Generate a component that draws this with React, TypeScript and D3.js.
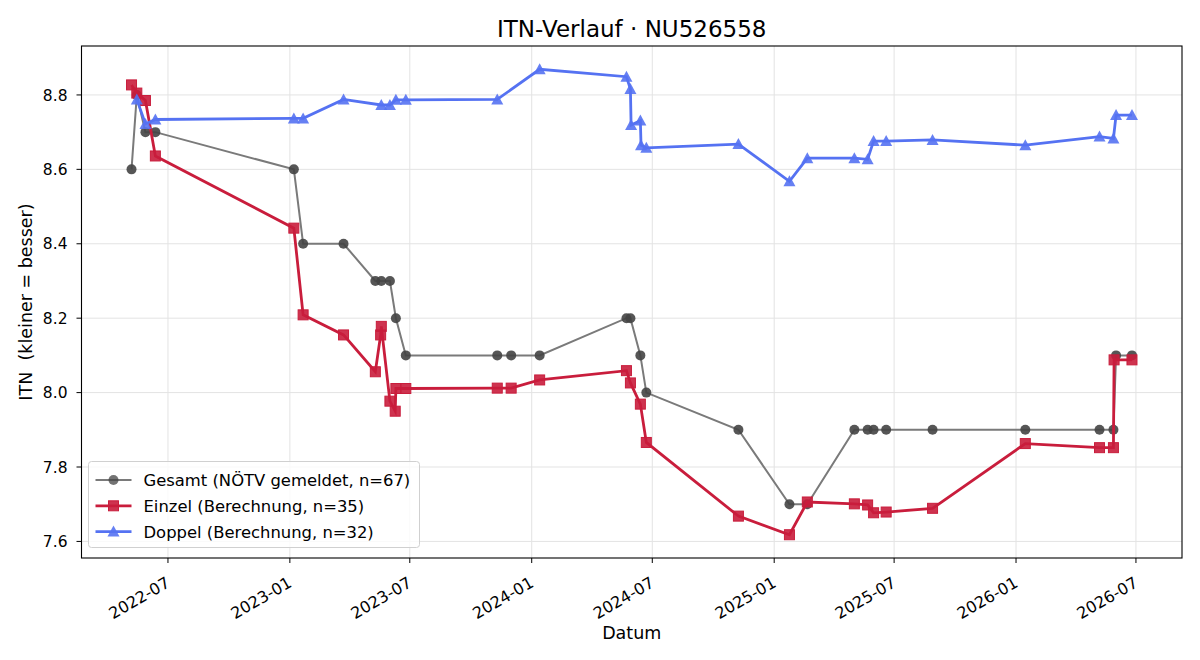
import React, { useEffect, useRef } from 'react';
import * as d3 from 'd3';

// Gesamt (NÖTV gemeldet)
const gesamtDates = [
  '2022-05-07', '2022-05-15', '2022-05-28', '2022-06-12', '2023-01-07', '2023-01-21',
  '2023-03-23', '2023-05-10', '2023-05-19', '2023-06-01', '2023-06-10', '2023-06-25',
  '2023-11-10', '2023-12-01', '2024-01-13', '2024-05-23', '2024-05-29', '2024-06-13',
  '2024-06-22', '2024-11-08', '2025-01-24', '2025-02-20', '2025-05-02', '2025-05-22',
  '2025-05-31', '2025-06-19', '2025-08-28', '2026-01-15', '2026-05-07', '2026-05-28',
  '2026-06-01', '2026-06-25',
];
const gesamtValues = [
  8.6, 8.8, 8.7, 8.7, 8.6, 8.4,
  8.4, 8.3, 8.3, 8.3, 8.2, 8.1,
  8.1, 8.1, 8.1, 8.2, 8.2, 8.1,
  8.0, 7.9, 7.7, 7.7, 7.9, 7.9,
  7.9, 7.9, 7.9, 7.9, 7.9, 7.9,
  8.1, 8.1,
];

// Einzel (Berechnung)
const einzelDates = [
  '2022-05-07', '2022-05-15', '2022-05-28', '2022-06-12', '2023-01-07', '2023-01-21',
  '2023-03-23', '2023-05-10', '2023-05-18', '2023-05-19', '2023-06-01', '2023-06-09',
  '2023-06-10', '2023-06-25', '2023-11-10', '2023-12-01', '2024-01-13', '2024-05-23',
  '2024-05-29', '2024-06-13', '2024-06-22', '2024-11-08', '2025-01-24', '2025-02-20',
  '2025-05-02', '2025-05-22', '2025-05-31', '2025-06-19', '2025-08-28', '2026-01-15',
  '2026-05-07', '2026-05-28', '2026-05-29', '2026-06-25',
];
const einzelValues = [
  8.827, 8.805, 8.785, 8.636, 8.442, 8.209,
  8.155, 8.056, 8.155, 8.178, 7.977, 7.95,
  8.011, 8.011, 8.012, 8.012, 8.034, 8.059,
  8.026, 7.969, 7.866, 7.668, 7.618, 7.706,
  7.701, 7.698, 7.677, 7.679, 7.689, 7.863,
  7.852, 7.852, 8.088, 8.088,
];

// Doppel (Berechnung)
const doppelDates = [
  '2022-05-15', '2022-05-28', '2022-06-12', '2023-01-07', '2023-01-21', '2023-03-23',
  '2023-05-19', '2023-06-01', '2023-06-10', '2023-06-25', '2023-11-10', '2024-01-13',
  '2024-05-23', '2024-05-29', '2024-05-30', '2024-06-13', '2024-06-14', '2024-06-22',
  '2024-11-08', '2025-01-24', '2025-02-20', '2025-05-02', '2025-05-22', '2025-05-31',
  '2025-06-19', '2025-08-28', '2026-01-15', '2026-05-07', '2026-05-28', '2026-06-01',
  '2026-06-25',
];
const doppelValues = [
  8.788, 8.722, 8.734, 8.737, 8.737, 8.788,
  8.773, 8.773, 8.787, 8.787, 8.788, 8.869,
  8.849, 8.816, 8.719, 8.731, 8.665, 8.658,
  8.668, 8.568, 8.63, 8.63, 8.627, 8.676,
  8.676, 8.679, 8.665, 8.688, 8.683, 8.746,
  8.746,
];

const legendLabels = [
  'Gesamt (NÖTV gemeldet, n=67)',
  'Einzel (Berechnung, n=35)',
  'Doppel (Berechnung, n=32)',
];

const FONT = '"DejaVu Sans", sans-serif';
const GRAY_LINE = '#7a7a7a';
const GRAY_DOT = '#444444';
const RED = '#c91d3c';
const BLUE = '#5572f2';

interface Pt { date: Date; value: number; }

const App: React.FC = () => {
  const svgRef = useRef<SVGSVGElement>(null);

  useEffect(() => {
    if (!svgRef.current) return;
    document.body.style.margin = '0';

    const width = 1200;
    const height = 660;
    const svg = d3.select(svgRef.current);
    svg.selectAll('*').remove();

    const margin = { top: 46, right: 18, bottom: 102, left: 81.5 };
    const innerWidth = width - margin.left - margin.right;
    const innerHeight = height - margin.top - margin.bottom;

    const parse = d3.timeParse('%Y-%m-%d');
    const toPts = (ds: string[], vs: number[]): Pt[] =>
      ds.map((d, i) => ({ date: parse(d) as Date, value: vs[i] }));

    const gesamt = toPts(gesamtDates, gesamtValues);
    const einzel = toPts(einzelDates, einzelValues);
    const doppel = toPts(doppelDates, doppelValues);
    const all = [...gesamt, ...einzel, ...doppel];

    // matplotlib-style 5% padding
    const [t0, t1] = d3.extent(all, d => +d.date) as [number, number];
    const [v0, v1] = d3.extent(all, d => d.value) as [number, number];
    const tp = (t1 - t0) * 0.05;
    const vp = (v1 - v0) * 0.05;

    const xScale = d3.scaleTime()
      .domain([new Date(t0 - tp), new Date(t1 + tp)])
      .range([0, innerWidth]);
    const yScale = d3.scaleLinear()
      .domain([v0 - vp, v1 + vp])
      .range([innerHeight, 0]);

    const g = svg.append('g')
      .attr('transform', `translate(${margin.left},${margin.top})`);

    const xTicks = xScale.ticks(d3.timeMonth.every(6) as d3.TimeInterval);
    const yTicks = d3.range(7.6, 8.81, 0.2);

    // Grid
    g.append('g').selectAll('line')
      .data(xTicks)
      .enter()
      .append('line')
      .attr('x1', d => xScale(d)).attr('x2', d => xScale(d))
      .attr('y1', 0).attr('y2', innerHeight)
      .attr('stroke', '#e3e3e3').attr('stroke-width', 1);
    g.append('g').selectAll('line')
      .data(yTicks)
      .enter()
      .append('line')
      .attr('x1', 0).attr('x2', innerWidth)
      .attr('y1', d => yScale(d)).attr('y2', d => yScale(d))
      .attr('stroke', '#e3e3e3').attr('stroke-width', 1);

    const line = d3.line<Pt>().x(d => xScale(d.date)).y(d => yScale(d.value));

    // Gesamt
    g.append('path')
      .datum(gesamt)
      .attr('d', line)
      .attr('fill', 'none')
      .attr('stroke', GRAY_LINE)
      .attr('stroke-width', 2);
    g.selectAll('.dot-g')
      .data(gesamt)
      .enter()
      .append('circle')
      .attr('class', 'dot-g')
      .attr('cx', d => xScale(d.date))
      .attr('cy', d => yScale(d.value))
      .attr('r', 5)
      .attr('fill', GRAY_DOT)
      .attr('opacity', 0.9);

    // Einzel
    g.append('path')
      .datum(einzel)
      .attr('d', line)
      .attr('fill', 'none')
      .attr('stroke', RED)
      .attr('stroke-width', 2.8);
    g.selectAll('.sq')
      .data(einzel)
      .enter()
      .append('rect')
      .attr('class', 'sq')
      .attr('x', d => xScale(d.date) - 5)
      .attr('y', d => yScale(d.value) - 5)
      .attr('width', 10)
      .attr('height', 10)
      .attr('fill', RED)
      .attr('fill-opacity', 0.9)
      .attr('stroke', RED)
      .attr('stroke-width', 1);

    // Doppel
    const tri = 'M0,-6L6,5L-6,5Z';
    g.append('path')
      .datum(doppel)
      .attr('d', line)
      .attr('fill', 'none')
      .attr('stroke', BLUE)
      .attr('stroke-width', 2.8);
    g.selectAll('.tri')
      .data(doppel)
      .enter()
      .append('path')
      .attr('class', 'tri')
      .attr('d', tri)
      .attr('transform', d => `translate(${xScale(d.date)},${yScale(d.value)})`)
      .attr('fill', BLUE)
      .attr('fill-opacity', 0.9);

    // Frame
    g.append('rect')
      .attr('width', innerWidth)
      .attr('height', innerHeight)
      .attr('fill', 'none')
      .attr('stroke', '#000')
      .attr('stroke-width', 1.1);

    // X ticks
    const xt = g.append('g').attr('transform', `translate(0,${innerHeight})`);
    xTicks.forEach(t => {
      const x = xScale(t);
      xt.append('line').attr('x1', x).attr('x2', x).attr('y1', 0).attr('y2', 5)
        .attr('stroke', '#000').attr('stroke-width', 1);
      xt.append('text')
        .attr('transform', `translate(${x + 3},${28}) rotate(-30)`)
        .attr('text-anchor', 'end')
        .style('font-family', FONT)
        .style('font-size', '16px')
        .attr('fill', '#000')
        .text(d3.timeFormat('%Y-%m')(t));
    });

    // Y ticks
    const yt = g.append('g');
    yTicks.forEach(v => {
      const y = yScale(v);
      yt.append('line').attr('x1', -5).attr('x2', 0).attr('y1', y).attr('y2', y)
        .attr('stroke', '#000').attr('stroke-width', 1);
      yt.append('text')
        .attr('x', -14)
        .attr('y', y)
        .attr('dy', '0.36em')
        .attr('text-anchor', 'end')
        .style('font-family', FONT)
        .style('font-size', '15.5px')
        .attr('fill', '#000')
        .text(v.toFixed(1));
    });

    // Axis labels
    svg.append('text')
      .attr('x', margin.left + innerWidth / 2)
      .attr('y', 639)
      .attr('text-anchor', 'middle')
      .style('font-family', FONT)
      .style('font-size', '17.5px')
      .text('Datum');
    svg.append('text')
      .attr('transform', `translate(32,${margin.top + innerHeight / 2}) rotate(-90)`)
      .attr('text-anchor', 'middle')
      .style('font-family', FONT)
      .style('font-size', '17.5px')
      .style('white-space', 'pre')
      .text('ITN  (kleiner = besser)');

    // Title
    svg.append('text')
      .attr('x', margin.left + innerWidth / 2)
      .attr('y', 37)
      .attr('text-anchor', 'middle')
      .style('font-family', FONT)
      .style('font-size', '23px')
      .text('ITN-Verlauf · NU526558');

    // Legend
    const legend = svg.append('g').attr('transform', 'translate(88.5,461.5)');
    legend.append('rect')
      .attr('width', 331)
      .attr('height', 86)
      .attr('rx', 3)
      .attr('fill', '#fff')
      .attr('fill-opacity', 0.8)
      .attr('stroke', '#d0d0d0')
      .attr('stroke-width', 1);

    const legendStyles = [
      { color: GRAY_LINE, mark: 'circle', w: 2 },
      { color: RED, mark: 'square', w: 2.8 },
      { color: BLUE, mark: 'triangle', w: 2.8 },
    ];
    legendLabels.forEach((label, i) => {
      const s = legendStyles[i];
      const item = legend.append('g').attr('transform', `translate(0,${18.5 + i * 25.8})`);
      item.append('line')
        .attr('x1', 7).attr('x2', 43).attr('y1', 0).attr('y2', 0)
        .attr('stroke', s.color).attr('stroke-width', s.w);
      if (s.mark === 'circle') {
        item.append('circle').attr('cx', 25).attr('cy', 0).attr('r', 5)
          .attr('fill', GRAY_DOT).attr('opacity', 0.75);
      } else if (s.mark === 'square') {
        item.append('rect').attr('x', 20).attr('y', -5).attr('width', 10).attr('height', 10)
          .attr('fill', RED).attr('fill-opacity', 0.9).attr('stroke', RED);
      } else {
        item.append('path').attr('d', tri).attr('transform', 'translate(25,0)')
          .attr('fill', BLUE).attr('fill-opacity', 0.9);
      }
      item.append('text')
        .attr('x', 55)
        .attr('y', 0)
        .attr('dy', '0.36em')
        .style('font-family', FONT)
        .style('font-size', '16.4px')
        .text(label);
    });
  }, []);

  return (
    <svg
      ref={svgRef}
      width={1200}
      height={660}
      style={{ display: 'block', background: '#fff' }}
    />
  );
};

export default App;
